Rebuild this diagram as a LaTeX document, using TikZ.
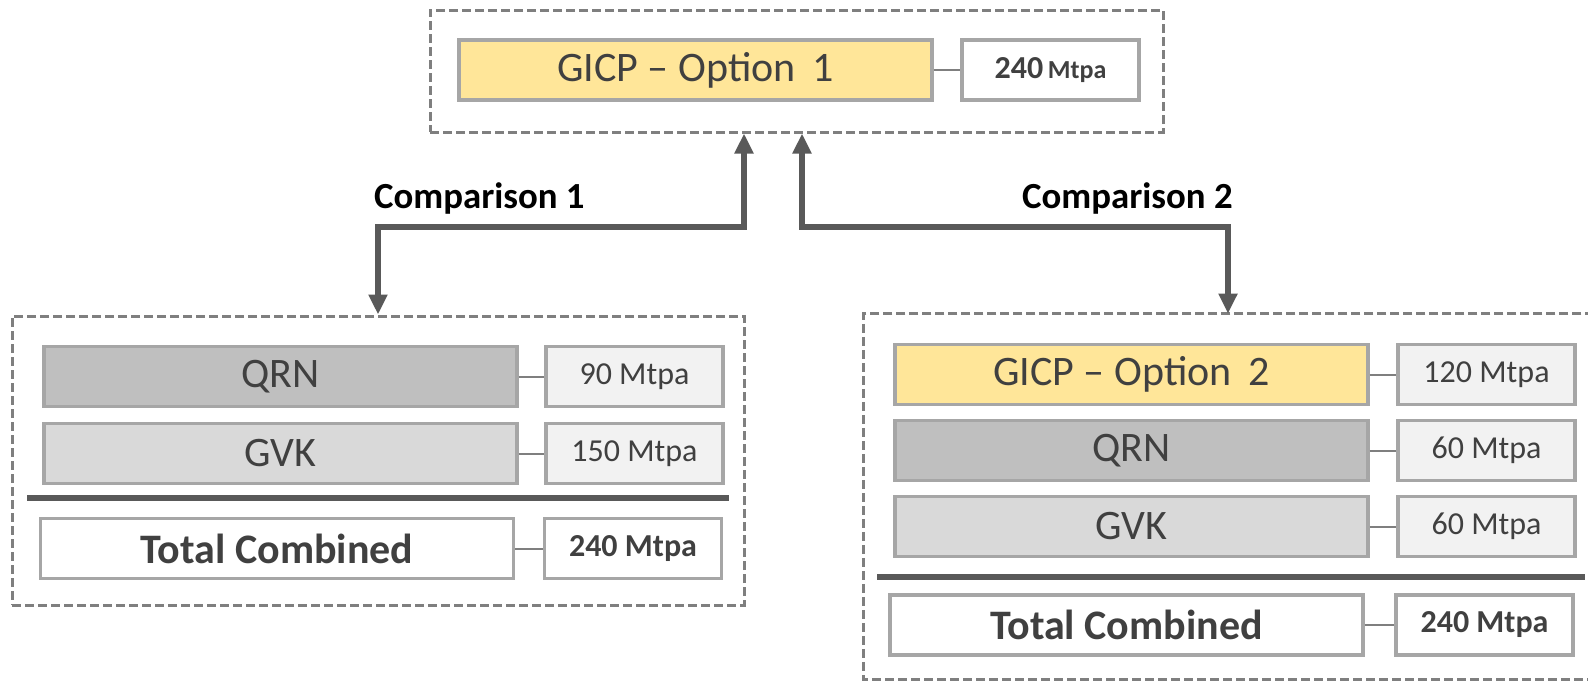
\documentclass[tikz,border=0pt]{standalone}
\usepackage{fontspec}
\setmainfont{Carlito}
\usetikzlibrary{arrows.meta}
\definecolor{optyellow}{HTML}{FFE699}
\definecolor{qrnfill}{HTML}{BFBFBF}
\definecolor{gvkfill}{HTML}{D9D9D9}
\definecolor{valfill}{HTML}{F2F2F2}
\definecolor{boxgray}{HTML}{A6A6A6}
\definecolor{dashgray}{HTML}{7F7F7F}
\definecolor{arrowgray}{HTML}{595959}
\definecolor{txtgray}{HTML}{404040}

\tikzset{
  namebox/.style={draw=boxgray, line width=1.6pt, minimum width=236.5pt, minimum height=30pt,
    inner sep=0pt, text=txtgray, font=\fontsize{21}{25}\selectfont},
  valbox/.style={draw=boxgray, line width=1.6pt, fill=valfill, minimum width=88.5pt,
    minimum height=30pt, inner sep=0pt, text=txtgray, font=\fontsize{16}{19}\selectfont},
  groupbox/.style={draw=dashgray, line width=1.5pt, dash pattern=on 4.5pt off 2pt, inner sep=0pt},
  dashline/.style={draw=dashgray, line width=1.5pt, dash pattern=on 4.5pt off 2pt},
  flow/.style={draw=arrowgray, line width=3pt,
    {Triangle[length=10pt,width=9pt]}-{Triangle[length=10pt,width=9pt]}},
  link/.style={draw=dashgray, line width=1pt},
  sepline/.style={draw=arrowgray, line width=3pt},
  cmplabel/.style={anchor=east, inner sep=0pt, font=\fontsize{18.4}{22}\selectfont\bfseries}
}

\begin{document}
\begin{tikzpicture}[x=0.5pt, y=-0.5pt]
  \useasboundingbox (0,0) rectangle (1588,681);
  \clip (0,0) rectangle (1588,681);

  % outer groups (the right one runs off the page)
  \node[groupbox, minimum width=366.5pt, minimum height=61pt] (top) at (796.5,71) {};
  \node[groupbox, minimum width=366pt, minimum height=144.5pt] (left) at (378,460.5) {};
  \node[minimum width=378pt, minimum height=182.5pt, inner sep=0pt] (right) at (1242,496.5) {};
  \draw[dashline] (right.north east) -- (right.north west) -- (right.south west) -- (right.south east);

  % option 1
  \node[namebox, fill=optyellow] (gicpa) at (695.5,70) {GICP -- Option\hspace{0.4em}1};
  \node[valbox, fill=white, font=\bfseries] (gicpaval) at (1050.5,70)
    {{\fontsize{16}{19}\selectfont 240} {\fontsize{13}{16}\selectfont Mtpa}};
  \draw[link] (gicpa) -- (gicpaval);

  % comparison 1
  \node[namebox, fill=qrnfill] (qrnl) at (280.5,376.5) {QRN};
  \node[valbox] (qrnlval) at (634.5,376.5) {90 Mtpa};
  \node[namebox, fill=gvkfill] (gvkl) at (280.5,453.5) {GVK};
  \node[valbox] (gvklval) at (634.5,453.5) {150 Mtpa};
  \draw[sepline] (27,498) -- (729,498);
  \node[namebox, fill=white, font=\fontsize{21}{25}\selectfont\bfseries] (totl) at (277,548.5) {Total Combined};
  \node[valbox, fill=white, font=\fontsize{16}{19}\selectfont\bfseries] (totlval) at (633,548.5) {240 Mtpa};
  \draw[link] (qrnl) -- (qrnlval);
  \draw[link] (gvkl) -- (gvklval);
  \draw[link] (totl) -- (totlval);

  % comparison 2
  \node[namebox, fill=optyellow] (gicpb) at (1131.5,374.5) {GICP -- Option\hspace{0.4em}2};
  \node[valbox] (gicpbval) at (1486.5,374.5) {120 Mtpa};
  \node[namebox, fill=qrnfill] (qrnr) at (1131.5,450.5) {QRN};
  \node[valbox] (qrnrval) at (1486.5,450.5) {60 Mtpa};
  \node[namebox, fill=gvkfill] (gvkr) at (1131.5,526.5) {GVK};
  \node[valbox] (gvkrval) at (1486.5,526.5) {60 Mtpa};
  \draw[sepline] (877,577) -- (1585,577);
  \node[namebox, fill=white, font=\fontsize{21}{25}\selectfont\bfseries] (totr) at (1126.5,625) {Total Combined};
  \node[valbox, fill=white, font=\fontsize{16}{19}\selectfont\bfseries] (totrval) at (1484.5,625) {240 Mtpa};
  \draw[link] (gicpb) -- (gicpbval);
  \draw[link] (qrnr) -- (qrnrval);
  \draw[link] (gvkr) -- (gvkrval);
  \draw[link] (totr) -- (totrval);

  % arrows
  \draw[flow] ([xshift=-26.25pt]top.south) -- ++(0,93) -| (left.north);
  \draw[flow] ([xshift=2.75pt]top.south) -- ++(0,93) -| ([xshift=-7pt]right.north);
  \node[cmplabel] (cmpa) at (585,198) {Comparison 1};
  \node[cmplabel] (cmpb) at (1233,198) {Comparison 2};
\end{tikzpicture}
\end{document}
